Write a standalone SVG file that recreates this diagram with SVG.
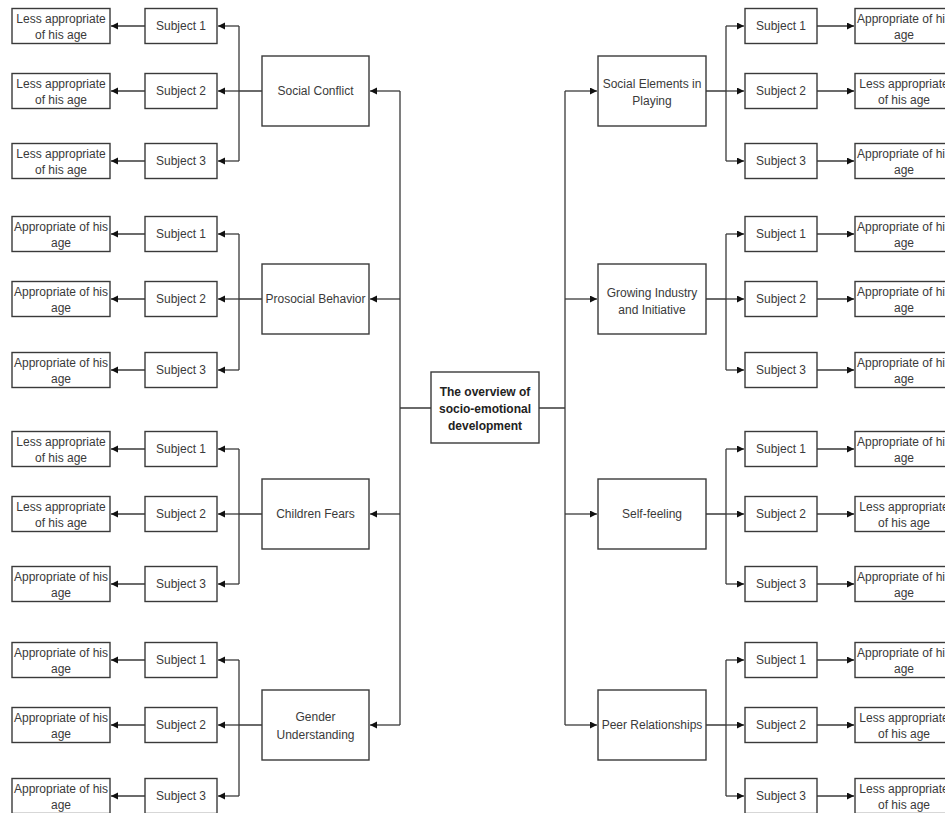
<svg xmlns="http://www.w3.org/2000/svg" width="945" height="813" viewBox="0 0 945 813">
<style>
.box{fill:#fff;stroke:#3a3a3a;stroke-width:1.4}
.t{font-family:"Liberation Sans",Arial,sans-serif;font-size:12px;fill:#3a3a3a;text-anchor:middle}
.b{font-weight:bold;fill:#222}
.c{fill:none;stroke:#3a3a3a;stroke-width:1.3}
.a{fill:none;stroke:#3a3a3a;stroke-width:1.3;marker-end:url(#ah)}
</style>
<defs>
<marker id="ah" markerUnits="userSpaceOnUse" markerWidth="8" markerHeight="8" refX="7" refY="3.5" orient="auto">
<path d="M0,0 L7,3.5 L0,7 z" fill="#111"/>
</marker>
</defs>
<rect width="945" height="813" fill="#fff"/>

<g id="connectors">
<path class="c" d="M431,408 H400 M400,91 V725 M539,408 H565 M565,91 V725"/>
<path class="a" d="M400,91 H370"/><path class="a" d="M400,299 H370"/><path class="a" d="M400,514 H370"/><path class="a" d="M400,725 H370"/>
<path class="a" d="M565,91 H597"/><path class="a" d="M565,299 H597"/><path class="a" d="M565,514 H597"/><path class="a" d="M565,725 H597"/>
<path class="c" d="M262,91 H239 M239,26 V161 M262,299 H239 M239,234 V370 M262,514 H239 M239,449 V584 M262,725 H239 M239,660 V796"/>
<path class="a" d="M239,26 H218"/><path class="a" d="M239,91 H218"/><path class="a" d="M239,161 H218"/>
<path class="a" d="M239,234 H218"/><path class="a" d="M239,299 H218"/><path class="a" d="M239,370 H218"/>
<path class="a" d="M239,449 H218"/><path class="a" d="M239,514 H218"/><path class="a" d="M239,584 H218"/>
<path class="a" d="M239,660 H218"/><path class="a" d="M239,725 H218"/><path class="a" d="M239,796 H218"/>
<path class="a" d="M145,26 H111"/><path class="a" d="M145,91 H111"/><path class="a" d="M145,161 H111"/>
<path class="a" d="M145,234 H111"/><path class="a" d="M145,299 H111"/><path class="a" d="M145,370 H111"/>
<path class="a" d="M145,449 H111"/><path class="a" d="M145,514 H111"/><path class="a" d="M145,584 H111"/>
<path class="a" d="M145,660 H111"/><path class="a" d="M145,725 H111"/><path class="a" d="M145,796 H111"/>
<path class="c" d="M706,91 H726 M726,26 V161 M706,299 H726 M726,234 V370 M706,514 H726 M726,449 V584 M706,725 H726 M726,660 V796"/>
<path class="a" d="M726,26 H744"/><path class="a" d="M726,91 H744"/><path class="a" d="M726,161 H744"/>
<path class="a" d="M726,234 H744"/><path class="a" d="M726,299 H744"/><path class="a" d="M726,370 H744"/>
<path class="a" d="M726,449 H744"/><path class="a" d="M726,514 H744"/><path class="a" d="M726,584 H744"/>
<path class="a" d="M726,660 H744"/><path class="a" d="M726,725 H744"/><path class="a" d="M726,796 H744"/>
<path class="a" d="M817,26 H854"/><path class="a" d="M817,91 H854"/><path class="a" d="M817,161 H854"/>
<path class="a" d="M817,234 H854"/><path class="a" d="M817,299 H854"/><path class="a" d="M817,370 H854"/>
<path class="a" d="M817,449 H854"/><path class="a" d="M817,514 H854"/><path class="a" d="M817,584 H854"/>
<path class="a" d="M817,660 H854"/><path class="a" d="M817,725 H854"/><path class="a" d="M817,796 H854"/>
</g>

<g id="root"><rect class="box" x="431" y="372" width="108" height="71"/>
<text class="t b" x="485" y="396">The overview of</text><text class="t b" x="485" y="413">socio-emotional</text><text class="t b" x="485" y="430">development</text></g>

<g id="social-conflict"><rect class="box" x="262" y="56" width="107" height="70"/><text class="t" x="315.5" y="95">Social Conflict</text></g>
<g id="prosocial"><rect class="box" x="262" y="264" width="107" height="70"/><text class="t" x="315.5" y="303">Prosocial Behavior</text></g>
<g id="children-fears"><rect class="box" x="262" y="479" width="107" height="70"/><text class="t" x="315.5" y="518">Children Fears</text></g>
<g id="gender"><rect class="box" x="262" y="690" width="107" height="70"/><text class="t" x="315.5" y="721">Gender</text><text class="t" x="315.5" y="739">Understanding</text></g>

<g id="social-elements"><rect class="box" x="598" y="56" width="108" height="70"/><text class="t" x="652" y="88">Social Elements in</text><text class="t" x="652" y="105">Playing</text></g>
<g id="growing"><rect class="box" x="598" y="264" width="108" height="70"/><text class="t" x="652" y="297">Growing Industry</text><text class="t" x="652" y="314">and Initiative</text></g>
<g id="self-feeling"><rect class="box" x="598" y="479" width="108" height="70"/><text class="t" x="652" y="518">Self-feeling</text></g>
<g id="peer"><rect class="box" x="598" y="690" width="108" height="70"/><text class="t" x="652" y="729">Peer Relationships</text></g>

<g id="l-s1-1"><rect class="box" x="145" y="8.5" width="72" height="35"/><text class="t" x="181" y="30">Subject 1</text></g>
<g id="l-s1-2"><rect class="box" x="145" y="73.5" width="72" height="35"/><text class="t" x="181" y="95">Subject 2</text></g>
<g id="l-s1-3"><rect class="box" x="145" y="143.5" width="72" height="35"/><text class="t" x="181" y="165">Subject 3</text></g>
<g id="l-s2-1"><rect class="box" x="145" y="216.5" width="72" height="35"/><text class="t" x="181" y="238">Subject 1</text></g>
<g id="l-s2-2"><rect class="box" x="145" y="281.5" width="72" height="35"/><text class="t" x="181" y="303">Subject 2</text></g>
<g id="l-s2-3"><rect class="box" x="145" y="352.5" width="72" height="35"/><text class="t" x="181" y="374">Subject 3</text></g>
<g id="l-s3-1"><rect class="box" x="145" y="431.5" width="72" height="35"/><text class="t" x="181" y="453">Subject 1</text></g>
<g id="l-s3-2"><rect class="box" x="145" y="496.5" width="72" height="35"/><text class="t" x="181" y="518">Subject 2</text></g>
<g id="l-s3-3"><rect class="box" x="145" y="566.5" width="72" height="35"/><text class="t" x="181" y="588">Subject 3</text></g>
<g id="l-s4-1"><rect class="box" x="145" y="642.5" width="72" height="35"/><text class="t" x="181" y="664">Subject 1</text></g>
<g id="l-s4-2"><rect class="box" x="145" y="707.5" width="72" height="35"/><text class="t" x="181" y="729">Subject 2</text></g>
<g id="l-s4-3"><rect class="box" x="145" y="778.5" width="72" height="35"/><text class="t" x="181" y="800">Subject 3</text></g>

<g id="l-r1-1"><rect class="box" x="12" y="8.5" width="98" height="35"/><text class="t" x="61" y="23">Less appropriate</text><text class="t" x="61" y="39">of his age</text></g>
<g id="l-r1-2"><rect class="box" x="12" y="73.5" width="98" height="35"/><text class="t" x="61" y="88">Less appropriate</text><text class="t" x="61" y="104">of his age</text></g>
<g id="l-r1-3"><rect class="box" x="12" y="143.5" width="98" height="35"/><text class="t" x="61" y="158">Less appropriate</text><text class="t" x="61" y="174">of his age</text></g>
<g id="l-r2-1"><rect class="box" x="12" y="216.5" width="98" height="35"/><text class="t" x="61" y="231">Appropriate of his</text><text class="t" x="61" y="247">age</text></g>
<g id="l-r2-2"><rect class="box" x="12" y="281.5" width="98" height="35"/><text class="t" x="61" y="296">Appropriate of his</text><text class="t" x="61" y="312">age</text></g>
<g id="l-r2-3"><rect class="box" x="12" y="352.5" width="98" height="35"/><text class="t" x="61" y="367">Appropriate of his</text><text class="t" x="61" y="383">age</text></g>
<g id="l-r3-1"><rect class="box" x="12" y="431.5" width="98" height="35"/><text class="t" x="61" y="446">Less appropriate</text><text class="t" x="61" y="462">of his age</text></g>
<g id="l-r3-2"><rect class="box" x="12" y="496.5" width="98" height="35"/><text class="t" x="61" y="511">Less appropriate</text><text class="t" x="61" y="527">of his age</text></g>
<g id="l-r3-3"><rect class="box" x="12" y="566.5" width="98" height="35"/><text class="t" x="61" y="581">Appropriate of his</text><text class="t" x="61" y="597">age</text></g>
<g id="l-r4-1"><rect class="box" x="12" y="642.5" width="98" height="35"/><text class="t" x="61" y="657">Appropriate of his</text><text class="t" x="61" y="673">age</text></g>
<g id="l-r4-2"><rect class="box" x="12" y="707.5" width="98" height="35"/><text class="t" x="61" y="722">Appropriate of his</text><text class="t" x="61" y="738">age</text></g>
<g id="l-r4-3"><rect class="box" x="12" y="778.5" width="98" height="35"/><text class="t" x="61" y="793">Appropriate of his</text><text class="t" x="61" y="809">age</text></g>

<g id="r-s1-1"><rect class="box" x="745" y="8.5" width="72" height="35"/><text class="t" x="781" y="30">Subject 1</text></g>
<g id="r-s1-2"><rect class="box" x="745" y="73.5" width="72" height="35"/><text class="t" x="781" y="95">Subject 2</text></g>
<g id="r-s1-3"><rect class="box" x="745" y="143.5" width="72" height="35"/><text class="t" x="781" y="165">Subject 3</text></g>
<g id="r-s2-1"><rect class="box" x="745" y="216.5" width="72" height="35"/><text class="t" x="781" y="238">Subject 1</text></g>
<g id="r-s2-2"><rect class="box" x="745" y="281.5" width="72" height="35"/><text class="t" x="781" y="303">Subject 2</text></g>
<g id="r-s2-3"><rect class="box" x="745" y="352.5" width="72" height="35"/><text class="t" x="781" y="374">Subject 3</text></g>
<g id="r-s3-1"><rect class="box" x="745" y="431.5" width="72" height="35"/><text class="t" x="781" y="453">Subject 1</text></g>
<g id="r-s3-2"><rect class="box" x="745" y="496.5" width="72" height="35"/><text class="t" x="781" y="518">Subject 2</text></g>
<g id="r-s3-3"><rect class="box" x="745" y="566.5" width="72" height="35"/><text class="t" x="781" y="588">Subject 3</text></g>
<g id="r-s4-1"><rect class="box" x="745" y="642.5" width="72" height="35"/><text class="t" x="781" y="664">Subject 1</text></g>
<g id="r-s4-2"><rect class="box" x="745" y="707.5" width="72" height="35"/><text class="t" x="781" y="729">Subject 2</text></g>
<g id="r-s4-3"><rect class="box" x="745" y="778.5" width="72" height="35"/><text class="t" x="781" y="800">Subject 3</text></g>

<g id="r-r1-1"><rect class="box" x="855" y="8.5" width="98" height="35"/><text class="t" x="904" y="23">Appropriate of his</text><text class="t" x="904" y="39">age</text></g>
<g id="r-r1-2"><rect class="box" x="855" y="73.5" width="98" height="35"/><text class="t" x="904" y="88">Less appropriate</text><text class="t" x="904" y="104">of his age</text></g>
<g id="r-r1-3"><rect class="box" x="855" y="143.5" width="98" height="35"/><text class="t" x="904" y="158">Appropriate of his</text><text class="t" x="904" y="174">age</text></g>
<g id="r-r2-1"><rect class="box" x="855" y="216.5" width="98" height="35"/><text class="t" x="904" y="231">Appropriate of his</text><text class="t" x="904" y="247">age</text></g>
<g id="r-r2-2"><rect class="box" x="855" y="281.5" width="98" height="35"/><text class="t" x="904" y="296">Appropriate of his</text><text class="t" x="904" y="312">age</text></g>
<g id="r-r2-3"><rect class="box" x="855" y="352.5" width="98" height="35"/><text class="t" x="904" y="367">Appropriate of his</text><text class="t" x="904" y="383">age</text></g>
<g id="r-r3-1"><rect class="box" x="855" y="431.5" width="98" height="35"/><text class="t" x="904" y="446">Appropriate of his</text><text class="t" x="904" y="462">age</text></g>
<g id="r-r3-2"><rect class="box" x="855" y="496.5" width="98" height="35"/><text class="t" x="904" y="511">Less appropriate</text><text class="t" x="904" y="527">of his age</text></g>
<g id="r-r3-3"><rect class="box" x="855" y="566.5" width="98" height="35"/><text class="t" x="904" y="581">Appropriate of his</text><text class="t" x="904" y="597">age</text></g>
<g id="r-r4-1"><rect class="box" x="855" y="642.5" width="98" height="35"/><text class="t" x="904" y="657">Appropriate of his</text><text class="t" x="904" y="673">age</text></g>
<g id="r-r4-2"><rect class="box" x="855" y="707.5" width="98" height="35"/><text class="t" x="904" y="722">Less appropriate</text><text class="t" x="904" y="738">of his age</text></g>
<g id="r-r4-3"><rect class="box" x="855" y="778.5" width="98" height="35"/><text class="t" x="904" y="793">Less appropriate</text><text class="t" x="904" y="809">of his age</text></g>
</svg>
